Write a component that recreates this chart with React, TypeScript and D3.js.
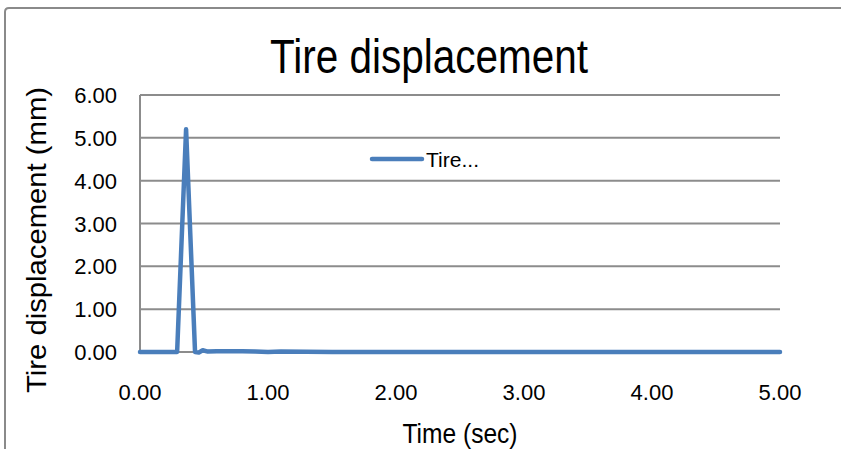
import React, { useEffect, useRef } from 'react';
import * as d3 from 'd3';

const times = [0, 0.1, 0.2, 0.29, 0.36, 0.43, 0.46, 0.49, 0.53, 0.6, 0.7, 0.8, 0.9, 1.0, 1.1, 1.5, 2.0, 3.0, 4.0, 5.0];
const displacement = [0, 0, 0, 0, 5.2, 0, -0.01, 0.04, 0.01, 0.02, 0.02, 0.02, 0.01, 0, 0.01, 0, 0, 0, 0, 0];
const xTicks = [0, 1, 2, 3, 4, 5];
const yTicks = [0, 1, 2, 3, 4, 5, 6];

const App: React.FC = () => {
  const svgRef = useRef<SVGSVGElement>(null);

  useEffect(() => {
    if (!svgRef.current) return;
    const svg = d3.select(svgRef.current);
    svg.selectAll('*').remove();

    const width = 841;
    const height = 449;
    const font = '"Liberation Sans", Arial, sans-serif';

    const x = d3.scaleLinear().domain([0, 5]).range([140, 780]);
    const y = d3.scaleLinear().domain([0, 6]).range([352, 95]);

    svg.attr('width', width).attr('height', height);

    svg.append('rect').attr('width', width).attr('height', height).attr('fill', '#ffffff');

    // chart frame (only left and top edges visible)
    svg.append('path')
      .attr('d', `M5,${height + 5} L5,12 Q5,8 9,8 L${width + 5},8`)
      .attr('fill', 'none')
      .attr('stroke', '#8a8a8a')
      .attr('stroke-width', 2);

    // gridlines
    svg.append('g')
      .selectAll('line')
      .data(yTicks.filter(d => d > 0))
      .join('line')
      .attr('x1', x(0))
      .attr('x2', x(5))
      .attr('y1', d => y(d))
      .attr('y2', d => y(d))
      .attr('stroke', '#8c8c8c')
      .attr('stroke-width', 2);

    // axes lines
    svg.append('line')
      .attr('x1', x(0)).attr('x2', x(0))
      .attr('y1', y(6)).attr('y2', y(0))
      .attr('stroke', '#8c8c8c').attr('stroke-width', 2);
    svg.append('line')
      .attr('x1', x(0)).attr('x2', x(5))
      .attr('y1', y(0)).attr('y2', y(0))
      .attr('stroke', '#8c8c8c').attr('stroke-width', 2);

    // y tick labels
    svg.append('g')
      .selectAll('text')
      .data(yTicks)
      .join('text')
      .attr('x', 117)
      .attr('y', d => y(d) + 8)
      .attr('text-anchor', 'end')
      .attr('font-family', font)
      .attr('font-size', 22)
      .attr('fill', '#000')
      .text(d => d3.format('.2f')(d));

    // x tick labels
    svg.append('g')
      .selectAll('text')
      .data(xTicks)
      .join('text')
      .attr('x', d => x(d))
      .attr('y', 400)
      .attr('text-anchor', 'middle')
      .attr('font-family', font)
      .attr('font-size', 22)
      .attr('fill', '#000')
      .text(d => d3.format('.2f')(d));

    // series line
    const line = d3.line<number>()
      .x((_, i) => x(times[i]))
      .y(d => y(d));

    svg.append('path')
      .datum(displacement)
      .attr('d', line)
      .attr('fill', 'none')
      .attr('stroke', '#4a7ebb')
      .attr('stroke-width', 4.5)
      .attr('stroke-linejoin', 'round')
      .attr('stroke-linecap', 'round');

    // legend
    svg.append('line')
      .attr('x1', 372).attr('x2', 422)
      .attr('y1', 159).attr('y2', 159)
      .attr('stroke', '#4a7ebb')
      .attr('stroke-width', 4.5)
      .attr('stroke-linecap', 'round');
    svg.append('text')
      .attr('x', 426)
      .attr('y', 167)
      .attr('font-family', font)
      .attr('font-size', 21)
      .attr('textLength', 53)
      .attr('lengthAdjust', 'spacingAndGlyphs')
      .attr('fill', '#000')
      .text('Tire...');

    // title
    svg.append('text')
      .attr('x', 429)
      .attr('y', 73)
      .attr('text-anchor', 'middle')
      .attr('font-family', font)
      .attr('font-size', 48)
      .attr('textLength', 318)
      .attr('lengthAdjust', 'spacingAndGlyphs')
      .attr('fill', '#000')
      .text('Tire displacement');

    // axis titles
    svg.append('text')
      .attr('x', 460)
      .attr('y', 443)
      .attr('text-anchor', 'middle')
      .attr('font-family', font)
      .attr('font-size', 28)
      .attr('textLength', 115)
      .attr('lengthAdjust', 'spacingAndGlyphs')
      .attr('fill', '#000')
      .text('Time (sec)');

    svg.append('text')
      .attr('transform', 'translate(46,240) rotate(-90)')
      .attr('text-anchor', 'middle')
      .attr('font-family', font)
      .attr('font-size', 28)
      .attr('textLength', 306)
      .attr('lengthAdjust', 'spacingAndGlyphs')
      .attr('fill', '#000')
      .text('Tire displacement (mm)');
  }, []);

  return (
    <div style={{ position: 'absolute', left: 0, top: 0 }}>
      <svg ref={svgRef} style={{ display: 'block' }}></svg>
    </div>
  );
};

export default App;
